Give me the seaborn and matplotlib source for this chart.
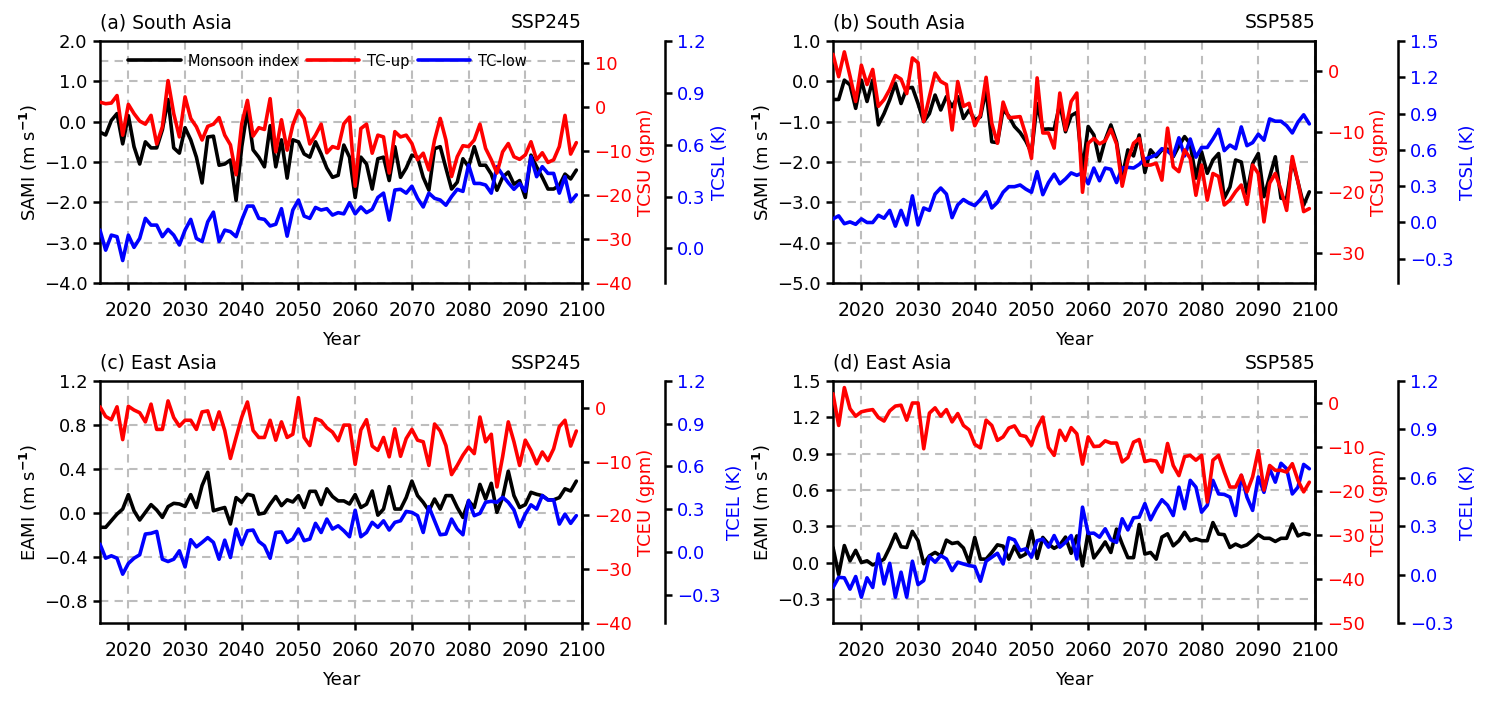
import numpy as np
import pandas as pd
import matplotlib
matplotlib.use("Agg")
import matplotlib.pyplot as plt
import seaborn as sns
from matplotlib.ticker import FuncFormatter

# ---------------- data (2015-2099) ----------------
years = list(range(2015, 2100))

# (a) South Asia SSP245
sa245_mon = [-0.26, -0.33, 0.03, 0.20, -0.55, 0.15, -0.62, -1.05, -0.50, -0.65,
             -0.65, -0.20, 0.55, -0.65, -0.78, -0.15, -0.45, -0.88, -1.52, -0.38,
             -0.36, -1.08, -1.05, -0.95, -1.95, -0.62, 0.30, -0.70, -0.88, -1.12,
             -0.10, -1.12, -0.45, -1.40, -0.45, -0.50, -0.80, -0.88, -0.50, -0.80,
             -1.15, -1.38, -1.33, -0.58, -0.88, -1.88, -0.88, -1.05, -1.67, -0.92,
             -0.88, -1.46, -0.62, -1.38, -1.15, -0.83, -0.88, -1.38, -1.70, -0.67,
             -0.62, -1.15, -1.67, -1.50, -0.92, -1.12, -0.62, -1.08, -1.08, -1.30,
             -1.70, -1.38, -1.25, -1.55, -1.46, -1.88, -0.83, -1.12, -1.38, -1.67,
             -1.67, -1.58, -1.30, -1.42, -1.20]
sa245_up = [1.1, 0.75, 0.9, 2.6, -6.4, 0.6, -1.5, -3.2, -3.9, -1.9,
            -8.4, -4.5, 6.0, -1.5, -6.8, 2.3, -2.6, -4.5, -7.5, -4.4,
            -3.9, -2.4, -6.4, -8.6, -15.4, -3.8, 1.5, -6.6, -4.7, -5.1,
            1.9, -10.2, -2.9, -9.8, -4.1, -0.75, -2.6, -8.4, -6.4, -3.9,
            -10.4, -9.0, -9.4, -3.8, -2.3, -18.0, -4.9, -3.9, -10.5, -6.4,
            -6.8, -15.0, -5.6, -6.8, -6.4, -8.3, -12.0, -10.5, -14.3, -7.5,
            -2.6, -7.5, -15.8, -11.3, -8.8, -9.0, -7.5, -3.9, -9.4, -12.0,
            -15.0, -10.2, -8.3, -11.3, -11.9, -10.9, -7.9, -12.0, -10.4, -12.6,
            -12.0, -9.0, -1.9, -10.7, -8.1]
sa245_low = [0.106, -0.01, 0.077, 0.068, -0.07, 0.077, 0.006, 0.058, 0.174, 0.135,
             0.135, 0.068, 0.11, 0.077, 0.02, 0.106, 0.168, 0.058, 0.04, 0.154,
             0.21, 0.04, 0.106, 0.097, 0.068, 0.164, 0.245, 0.245, 0.174, 0.168,
             0.13, 0.14, 0.23, 0.071, 0.222, 0.28, 0.187, 0.174, 0.237, 0.222,
             0.23, 0.193, 0.207, 0.2, 0.264, 0.2, 0.24, 0.207, 0.226, 0.295,
             0.32, 0.164, 0.338, 0.342, 0.32, 0.36, 0.29, 0.24, 0.32, 0.29,
             0.28, 0.25, 0.3, 0.342, 0.33, 0.483, 0.376, 0.376, 0.367, 0.32,
             0.473, 0.425, 0.38, 0.342, 0.376, 0.33, 0.53, 0.415, 0.473, 0.434,
             0.434, 0.32, 0.415, 0.27, 0.31]

# (b) South Asia SSP585
sa585_mon = [-0.45, -0.45, 0.03, -0.09, -0.67, 0.03, -0.50, 0.03, -1.08, -0.80,
             -0.46, -0.05, -0.55, -0.17, -0.15, -0.55, -1.00, -0.80, -0.34, -0.71,
             -0.38, -0.63, -0.38, -0.92, -0.71, -0.96, -0.88, -0.20, -1.50, -1.52,
             -0.70, -0.86, -1.12, -1.27, -1.48, -1.77, -0.55, -1.19, -1.18, -1.19,
             -0.56, -1.25, -0.85, -0.77, -2.20, -1.12, -1.33, -1.97, -1.45, -1.08,
             -1.50, -2.37, -1.70, -1.85, -1.33, -2.26, -1.70, -1.87, -1.70, -1.68,
             -1.87, -1.60, -1.37, -1.55, -2.40, -1.75, -2.28, -1.95, -1.79, -2.90,
             -2.62, -1.95, -2.00, -2.78, -2.04, -1.79, -2.86, -2.37, -1.87, -2.90,
             -2.90, -1.95, -2.50, -3.07, -2.74]
sa585_up = [2.8, -0.9, 3.2, -0.8, -5.0, 1.0, -2.2, 0.3, -5.8, -4.7,
            -3.0, -0.7, -1.3, -3.7, 2.2, 1.4, -8.3, -4.2, -0.3, -1.7,
            -2.2, -9.7, -1.7, -5.8, -5.3, -9.0, -7.2, -1.0, -8.6, -11.9,
            -5.1, -7.7, -7.6, -7.5, -10.5, -14.4, -1.1, -10.2, -10.2, -12.7,
            -3.6, -9.7, -5.0, -3.6, -20.0, -11.9, -11.1, -12.0, -11.5, -9.6,
            -12.0, -19.0, -14.7, -11.9, -11.1, -15.5, -15.5, -15.2, -18.0, -9.4,
            -15.8, -16.6, -13.0, -14.4, -20.5, -15.5, -21.3, -16.9, -17.4, -22.1,
            -21.3, -19.9, -18.8, -22.0, -15.5, -16.9, -24.9, -18.5, -16.9, -19.6,
            -23.0, -14.1, -18.3, -23.2, -22.7]
sa585_low = [0.03, 0.055, -0.01, 0.005, -0.015, 0.03, 0.0, 0.0, 0.06, 0.035,
             0.10, -0.03, 0.10, -0.02, 0.22, -0.02, 0.12, 0.10, 0.235, 0.285,
             0.235, 0.04, 0.146, 0.19, 0.16, 0.14, 0.19, 0.254, 0.12, 0.166,
             0.25, 0.296, 0.296, 0.31, 0.276, 0.25, 0.42, 0.23, 0.33, 0.40,
             0.32, 0.36, 0.41, 0.39, 0.41, 0.32, 0.45, 0.345, 0.45, 0.44,
             0.33, 0.45, 0.456, 0.45, 0.48, 0.525, 0.54, 0.56, 0.61, 0.59,
             0.55, 0.70, 0.55, 0.69, 0.54, 0.62, 0.62, 0.69, 0.77, 0.594,
             0.64, 0.61, 0.79, 0.635, 0.66, 0.73, 0.68, 0.856, 0.837, 0.837,
             0.80, 0.74, 0.83, 0.89, 0.815]

# (c) East Asia SSP245
ea245_mon = [-0.13, -0.13, -0.07, -0.01, 0.036, 0.167, 0.02, -0.064, 0.006, 0.076,
             0.027, -0.04, 0.058, 0.088, 0.082, 0.06, 0.167, 0.05, 0.25, 0.37,
             0.02, 0.036, 0.05, -0.10, 0.14, 0.097, 0.17, 0.158, -0.01, 0.0,
             0.08, 0.15, 0.067, 0.12, 0.10, 0.158, 0.05, 0.197, 0.197, 0.076,
             0.22, 0.15, 0.11, 0.11, 0.082, 0.167, 0.05, 0.08, 0.20, -0.02,
             0.036, 0.24, 0.036, 0.036, 0.14, 0.29, 0.158, 0.097, 0.02, 0.127,
             0.036, 0.158, 0.158, 0.05, -0.04, 0.11, 0.05, 0.26, 0.127, 0.27,
             0.006, 0.14, 0.38, 0.158, 0.05, 0.076, 0.188, 0.17, 0.158, 0.12,
             0.12, 0.14, 0.22, 0.20, 0.29]
ea245_up = [0.2, -1.6, -2.2, 0.2, -5.9, 0.3, -0.4, -0.9, -2.6, 0.7,
            -4.0, -4.0, 1.3, -1.8, -3.4, -2.3, -2.3, -4.0, -0.75, -0.56,
            -4.0, -0.75, -4.2, -9.4, -5.5, -1.7, 1.1, -4.2, -5.5, -5.5,
            -2.3, -6.0, -2.6, -5.5, -4.9, 1.9, -5.5, -7.0, -2.0, -2.4,
            -3.7, -4.5, -6.1, -3.2, -3.2, -10.5, -4.1, -2.2, -7.1, -7.9,
            -5.5, -9.1, -3.9, -9.0, -5.7, -4.0, -6.0, -6.3, -10.7, -3.0,
            -4.3, -7.0, -12.4, -10.7, -8.8, -7.3, -8.5, -1.7, -6.3, -4.9,
            -14.7, -9.1, -2.6, -6.3, -10.7, -6.0, -7.9, -10.4, -8.2, -9.8,
            -7.6, -3.5, -2.3, -7.1, -4.3]
ea245_low = [0.054, -0.045, -0.028, -0.045, -0.157, -0.082, -0.045, -0.021, 0.125, 0.13,
             0.143, -0.052, -0.068, -0.052, 0.007, -0.106, 0.085, 0.035, 0.066, 0.10,
             0.066, -0.052, 0.082, -0.04, 0.16, 0.05, 0.148, 0.153, 0.073, 0.042,
             -0.045, 0.136, 0.14, 0.066, 0.09, 0.16, 0.078, 0.09, 0.20, 0.136,
             0.23, 0.16, 0.183, 0.148, 0.106, 0.292, 0.106, 0.136, 0.207, 0.172,
             0.218, 0.153, 0.207, 0.218, 0.284, 0.277, 0.254, 0.136, 0.317, 0.218,
             0.12, 0.125, 0.23, 0.16, 0.12, 0.36, 0.254, 0.27, 0.348, 0.355,
             0.348, 0.383, 0.348, 0.294, 0.176, 0.265, 0.33, 0.30, 0.395, 0.364,
             0.364, 0.195, 0.265, 0.20, 0.254]

# (d) East Asia SSP585
ea585_mon = [0.124, -0.10, 0.14, 0.014, 0.10, 0.0, 0.014, -0.02, 0.0, 0.028,
             0.124, 0.235, 0.13, 0.124, 0.257, 0.18, -0.01, 0.055, 0.083, 0.055,
             0.185, 0.157, 0.166, 0.12, 0.0, 0.207, 0.028, 0.028, 0.083, 0.146,
             0.135, 0.028, 0.135, 0.045, 0.07, 0.262, 0.034, 0.207, 0.152, 0.117,
             0.145, 0.21, 0.076, 0.22, -0.028, 0.25, 0.038, 0.10, 0.17, 0.083,
             0.276, 0.152, 0.04, 0.04, 0.314, 0.07, 0.083, 0.028, 0.21, 0.237,
             0.138, 0.18, 0.25, 0.18, 0.196, 0.18, 0.18, 0.33, 0.235, 0.23,
             0.124, 0.152, 0.13, 0.146, 0.185, 0.23, 0.20, 0.20, 0.174, 0.20,
             0.20, 0.318, 0.22, 0.24, 0.23]
ea585_up = [2.1, -5.1, 3.5, -1.3, -3.0, -2.0, -1.7, -1.5, -3.3, -4.1,
            -1.8, -0.7, -0.5, -3.9, 0.0, 0.0, -10.4, -2.3, -1.1, -3.0,
            -1.5, -4.3, -2.4, -5.1, -6.1, -9.4, -10.2, -3.9, -5.1, -8.5,
            -7.7, -5.7, -5.2, -7.3, -7.6, -9.6, -5.6, -3.2, -10.1, -11.9,
            -6.2, -8.5, -5.6, -7.0, -13.9, -7.7, -9.9, -9.8, -8.6, -9.1,
            -9.1, -13.4, -12.4, -8.9, -8.3, -13.3, -13.0, -13.2, -15.7, -9.2,
            -14.2, -16.5, -12.2, -11.9, -13.0, -11.9, -22.5, -13.0, -11.9, -15.7,
            -19.1, -19.1, -16.4, -20.2, -16.8, -10.8, -19.8, -14.2, -15.3, -15.3,
            -15.7, -13.8, -17.6, -20.2, -18.0]
ea585_low = [-0.08, -0.017, -0.02, -0.09, -0.012, -0.14, -0.02, -0.08, 0.128, -0.058,
             0.07, -0.14, 0.015, -0.14, 0.083, -0.062, -0.037, 0.112, 0.077, 0.118,
             0.097, 0.025, 0.077, 0.066, 0.056, 0.05, -0.041, 0.083, 0.108, 0.132,
             0.066, 0.228, 0.215, 0.149, 0.16, 0.108, 0.21, 0.22, 0.17, 0.242,
             0.17, 0.20, 0.242, 0.097, 0.418, 0.255, 0.257, 0.232, 0.284, 0.216,
             0.20, 0.346, 0.277, 0.352, 0.356, 0.44, 0.34, 0.408, 0.464, 0.43,
             0.366, 0.542, 0.408, 0.584, 0.542, 0.387, 0.43, 0.584, 0.50, 0.497,
             0.48, 0.366, 0.615, 0.48, 0.398, 0.605, 0.51, 0.656, 0.573, 0.69,
             0.656, 0.50, 0.542, 0.683, 0.656]

legend_labels = ["Monsoon index", "TC-up", "TC-low"]
xticks = [2020, 2030, 2040, 2050, 2060, 2070, 2080, 2090, 2100]

panels = [
    dict(mon=sa245_mon, up=sa245_up, low=sa245_low,
         title="(a) South Asia", scen="SSP245",
         ylab="SAMI (m s$^{\\mathbf{-1}}$)", rlab="TCSU (gpm)", blab="TCSL (K)",
         ylim=(-4.0, 2.0), yticks=[-4.0, -3.0, -2.0, -1.0, 0.0, 1.0, 2.0], extra_grid=[1.5],
         rlim=(-40, 15), rticks=[-40, -30, -20, -10, 0, 10],
         blim=(-0.2, 1.2), bticks=[0.0, 0.3, 0.6, 0.9, 1.2], legend=True),
    dict(mon=sa585_mon, up=sa585_up, low=sa585_low,
         title="(b) South Asia", scen="SSP585",
         ylab="SAMI (m s$^{\\mathbf{-1}}$)", rlab="TCSU (gpm)", blab="TCSL (K)",
         ylim=(-5.0, 1.0), yticks=[-5.0, -4.0, -3.0, -2.0, -1.0, 0.0, 1.0], extra_grid=[],
         rlim=(-35, 5), rticks=[-30, -20, -10, 0],
         blim=(-0.5, 1.5), bticks=[-0.3, 0.0, 0.3, 0.6, 0.9, 1.2, 1.5], legend=False),
    dict(mon=ea245_mon, up=ea245_up, low=ea245_low,
         title="(c) East Asia", scen="SSP245",
         ylab="EAMI (m s$^{\\mathbf{-1}}$)", rlab="TCEU (gpm)", blab="TCEL (K)",
         ylim=(-1.0, 1.2), yticks=[-0.8, -0.4, 0.0, 0.4, 0.8, 1.2], extra_grid=[],
         rlim=(-40, 5), rticks=[-40, -30, -20, -10, 0],
         blim=(-0.5, 1.2), bticks=[-0.3, 0.0, 0.3, 0.6, 0.9, 1.2], legend=False),
    dict(mon=ea585_mon, up=ea585_up, low=ea585_low,
         title="(d) East Asia", scen="SSP585",
         ylab="EAMI (m s$^{\\mathbf{-1}}$)", rlab="TCEU (gpm)", blab="TCEL (K)",
         ylim=(-0.5, 1.5), yticks=[-0.3, 0.0, 0.3, 0.6, 0.9, 1.2, 1.5], extra_grid=[],
         rlim=(-50, 5), rticks=[-50, -40, -30, -20, -10, 0],
         blim=(-0.3, 1.2), bticks=[-0.3, 0.0, 0.3, 0.6, 0.9, 1.2], legend=False),
]

# ---------------- style ----------------
sns.set_theme(style="ticks")
plt.rcParams["font.family"] = ["DejaVu Sans"]
plt.rcParams["mathtext.fontset"] = "dejavusans"
plt.rcParams["axes.unicode_minus"] = True
for k in ("text.color", "axes.labelcolor", "xtick.color", "ytick.color", "axes.edgecolor"):
    plt.rcParams[k] = "black"

BLACK, RED, BLUE = "#000000", "#ff0000", "#0000ff"
GRID = "#bdbdbd"
LW = 2.6
SPW = 1.8
TICKL = 5.0


def fmt(nd):
    def f(v, pos):
        s = f"{v:.{nd}f}"
        if float(s) == 0:
            s = f"{0:.{nd}f}"
        return s.replace("-", "\u2212")
    return FuncFormatter(f)


fig = plt.figure(figsize=(14.97, 7.05), dpi=100)
W, H = 1497.0, 705.0
boxes = [(100, 41), (833, 41), (100, 381), (833, 381)]
aw, ah = 482, 242

for p, (lx, ty) in zip(panels, boxes):
    ax = fig.add_axes([lx / W, 1 - (ty + ah) / H, aw / W, ah / H])
    axb = ax.twinx()
    axr = ax.twinx()

    df = pd.DataFrame({"year": years, "mon": p["mon"], "up": p["up"], "low": p["low"]})
    sns.lineplot(data=df, x="year", y="mon", ax=ax, color=BLACK, lw=LW, legend=False)
    sns.lineplot(data=df, x="year", y="low", ax=axb, color=BLUE, lw=LW, legend=False)
    sns.lineplot(data=df, x="year", y="up", ax=axr, color=RED, lw=LW, legend=False)

    ax.set_xlim(2015, 2100)
    ax.set_xticks(xticks)
    ax.set_ylim(*p["ylim"])
    ax.set_yticks(p["yticks"])
    ax.yaxis.set_major_formatter(fmt(1))
    ax.grid(True, color=GRID, lw=1.5, ls=(0, (4, 3)))
    for g in p["extra_grid"]:
        ax.axhline(g, color=GRID, lw=1.5, ls=(0, (4, 3)), zorder=0.5)
    ax.set_axisbelow(True)

    axr.set_ylim(*p["rlim"])
    axr.set_yticks(p["rticks"])
    axr.yaxis.set_major_formatter(fmt(0))
    axb.set_ylim(*p["blim"])
    axb.set_yticks(p["bticks"])
    axb.yaxis.set_major_formatter(fmt(1))

    for s in ax.spines.values():
        s.set_linewidth(SPW)
        s.set_color(BLACK)
    for a in (axr, axb):
        for k in ("left", "top", "bottom"):
            a.spines[k].set_visible(False)
        a.spines["right"].set_linewidth(SPW)
        a.spines["right"].set_color(BLACK)
    axb.spines["right"].set_position(("axes", 1 + 82.5 / aw))

    ax.tick_params(axis="x", direction="out", length=TICKL, width=SPW,
                   labelsize=13.5, pad=8, colors=BLACK)
    ax.tick_params(axis="y", direction="out", length=TICKL, width=SPW,
                   labelsize=13, pad=4, colors=BLACK)
    axr.tick_params(axis="y", direction="out", length=TICKL, width=SPW,
                    labelsize=13, pad=4, color=BLACK, labelcolor=RED)
    axb.tick_params(axis="y", direction="out", length=TICKL, width=SPW,
                    labelsize=13, pad=4, color=BLACK, labelcolor=BLUE)

    ax.set_xlabel("Year", fontsize=13, labelpad=8, color=BLACK)
    ax.set_ylabel(p["ylab"], fontsize=13, labelpad=3, color=BLACK)
    axr.set_ylabel(p["rlab"], fontsize=13, color=RED, labelpad=3)
    axb.set_ylabel(p["blab"], fontsize=13, color=BLUE, labelpad=4)

    ax.set_title(p["title"], loc="left", fontsize=13.5, pad=9, color=BLACK)
    ax.set_title(p["scen"], loc="right", fontsize=13.5, pad=9, color=BLACK)

    if p["legend"]:
        handles = [ax.lines[0], axr.lines[0], axb.lines[0]]
        axr.legend(handles, legend_labels, loc="center left",
                   bbox_to_anchor=(28 / aw, 0.917), ncol=3, frameon=False,
                   fontsize=10.5, handlelength=3.6, handletextpad=0.5,
                   columnspacing=0.6, borderaxespad=0, borderpad=0)

fig.savefig("out.png", dpi=100)
